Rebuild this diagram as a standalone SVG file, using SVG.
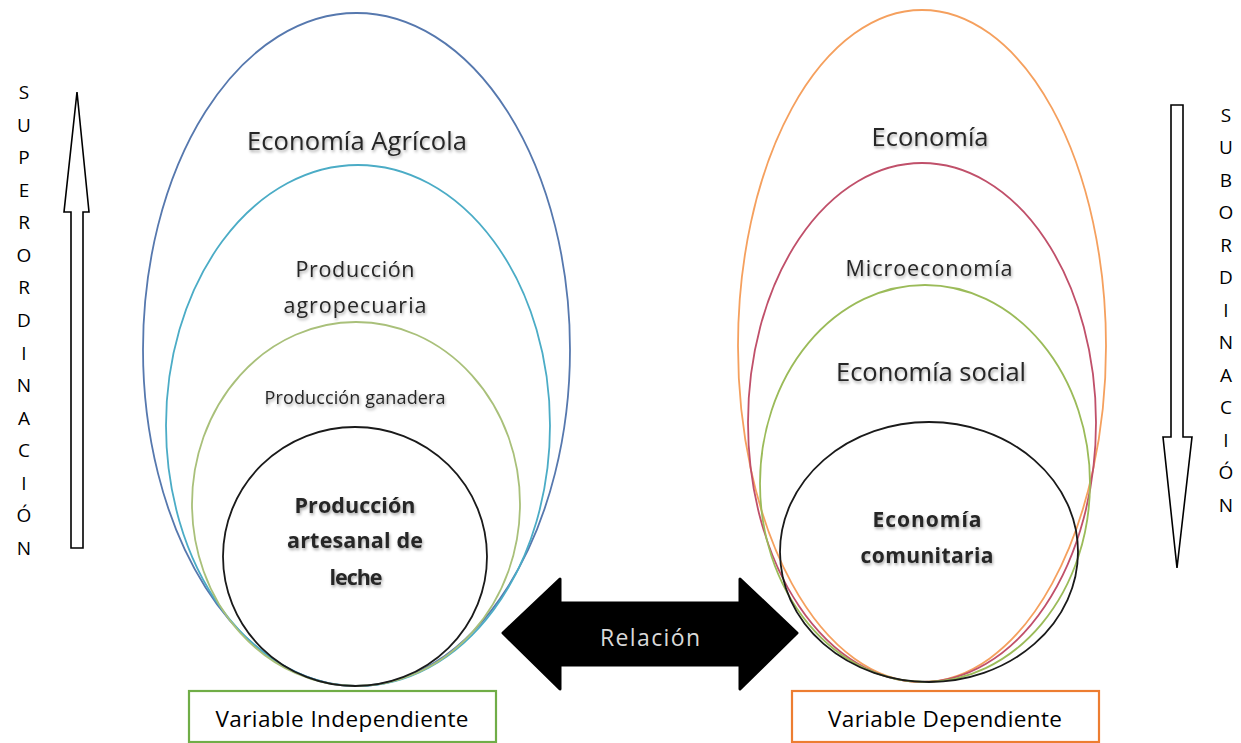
<svg xmlns="http://www.w3.org/2000/svg" width="1241" height="743" viewBox="0 0 1241 743">
<defs>
<filter id="sh" x="-10%" y="-30%" width="120%" height="180%">
<feDropShadow dx="1" dy="2" stdDeviation="1.4" flood-color="#000" flood-opacity="0.35"/>
</filter>
<style>
.el{fill:none;stroke-width:1.8}
.t{font-family:"Open Sans","Liberation Sans",sans-serif;fill:#262626;text-anchor:middle;filter:url(#sh)}
.b{font-weight:bold}
.v{font-family:"Open Sans","Liberation Sans",sans-serif;font-size:19px;fill:#000;text-anchor:middle}
.bx{font-family:"Open Sans","Liberation Sans",sans-serif;font-size:22.5px;fill:#000;text-anchor:middle}
.blk{fill:#fff;stroke:#000;stroke-width:1.6}
</style>
</defs>
<rect width="1241" height="743" fill="#fff"/>

<g id="left-ellipses">
<g id="economia-agricola">
<ellipse class="el" cx="356.5" cy="349.5" rx="213.5" ry="336.5" stroke="#5678AE"/>
<text class="t" x="357" y="150" font-size="25.5" textLength="220">Economía Agrícola</text>
</g>
<g id="produccion-agropecuaria">
<ellipse class="el" cx="358" cy="425.5" rx="192" ry="260.5" stroke="#4BACC6"/>
<text class="t" x="355" y="277" font-size="21.5" textLength="119">Producción</text>
<text class="t" x="355" y="313" font-size="21.5" textLength="143">agropecuaria</text>
</g>
<g id="produccion-ganadera">
<ellipse class="el" cx="356" cy="504" rx="164" ry="182" stroke="#A9C07A"/>
<text class="t" x="355" y="404" font-size="18" textLength="181">Producción ganadera</text>
</g>
<g id="produccion-artesanal">
<ellipse class="el" cx="355" cy="556.5" rx="132" ry="129.5" stroke="#1a1a1a"/>
<text class="t b" x="355" y="513" font-size="21.5" textLength="121">Producción</text>
<text class="t b" x="355" y="548" font-size="21.5" textLength="136">artesanal de</text>
<text class="t b" x="356" y="585" font-size="21.5" textLength="53">leche</text>
</g>
</g>

<g id="right-ellipses">
<g id="economia">
<ellipse class="el" cx="922" cy="346" rx="184" ry="336" stroke="#F5A05E"/>
<text class="t" x="930" y="146" font-size="25.5" textLength="117">Economía</text>
</g>
<g id="microeconomia">
<ellipse class="el" cx="922" cy="422.5" rx="174" ry="259.5" stroke="#C0506A"/>
<text class="t" x="929" y="276" font-size="21.5" textLength="167">Microeconomía</text>
</g>
<g id="economia-social">
<ellipse class="el" cx="925" cy="483.5" rx="165" ry="198.5" stroke="#9BBB59"/>
<text class="t" x="931" y="381" font-size="25.5" textLength="190">Economía social</text>
</g>
<g id="economia-comunitaria">
<ellipse class="el" cx="929" cy="552" rx="149" ry="130" stroke="#1a1a1a"/>
<text class="t b" x="927" y="527" font-size="21" textLength="109">Economía</text>
<text class="t b" x="927" y="563" font-size="21" textLength="133">comunitaria</text>
</g>
</g>

<g id="connectors">
<g id="superordinacion-arrow">
<path class="blk" d="M77,92 L89,212 L83,212 L83,548 L71,548 L71,212 L64,212 Z"/>
</g>
<g id="subordinacion-arrow">
<path class="blk" d="M1171,105 L1183,105 L1183,437 L1192,437 L1177,568 L1163,437 L1171,437 Z"/>
</g>
<g id="relacion-arrow">
<path d="M503,633 L560,579 L560,603 L740,603 L740,579 L797,633 L740,689 L740,665 L560,665 L560,689 Z" fill="#000" stroke="#000" stroke-width="3" stroke-linejoin="round"/>
<text x="650" y="646" font-family="'Open Sans','Liberation Sans',sans-serif" font-size="23" fill="#d9d9d9" text-anchor="middle" textLength="100">Relación</text>
</g>
</g>

<g id="superordinacion-label">
<text class="v" x="24" y="99">S</text>
<text class="v" x="24" y="132">U</text>
<text class="v" x="24" y="164">P</text>
<text class="v" x="24" y="197">E</text>
<text class="v" x="24" y="229">R</text>
<text class="v" x="24" y="262">O</text>
<text class="v" x="24" y="294">R</text>
<text class="v" x="24" y="327">D</text>
<text class="v" x="24" y="360">I</text>
<text class="v" x="24" y="392">N</text>
<text class="v" x="24" y="425">A</text>
<text class="v" x="24" y="457">C</text>
<text class="v" x="24" y="490">I</text>
<text class="v" x="24" y="522">Ó</text>
<text class="v" x="24" y="555">N</text>
</g>

<g id="subordinacion-label">
<text class="v" x="1226" y="122">S</text>
<text class="v" x="1226" y="154">U</text>
<text class="v" x="1226" y="187">B</text>
<text class="v" x="1226" y="219">O</text>
<text class="v" x="1226" y="252">R</text>
<text class="v" x="1226" y="284">D</text>
<text class="v" x="1226" y="317">I</text>
<text class="v" x="1226" y="349">N</text>
<text class="v" x="1226" y="382">A</text>
<text class="v" x="1226" y="414">C</text>
<text class="v" x="1226" y="447">I</text>
<text class="v" x="1226" y="479">Ó</text>
<text class="v" x="1226" y="512">N</text>
</g>

<g id="variable-independiente">
<rect x="189" y="691" width="307" height="51" fill="#fff" stroke="#70AD47" stroke-width="2.2"/>
<text class="bx" x="342" y="727" textLength="253">Variable Independiente</text>
</g>
<g id="variable-dependiente">
<rect x="792" y="691" width="307" height="51" fill="#fff" stroke="#ED7D31" stroke-width="2.2"/>
<text class="bx" x="945" y="727" textLength="234">Variable Dependiente</text>
</g>
</svg>
